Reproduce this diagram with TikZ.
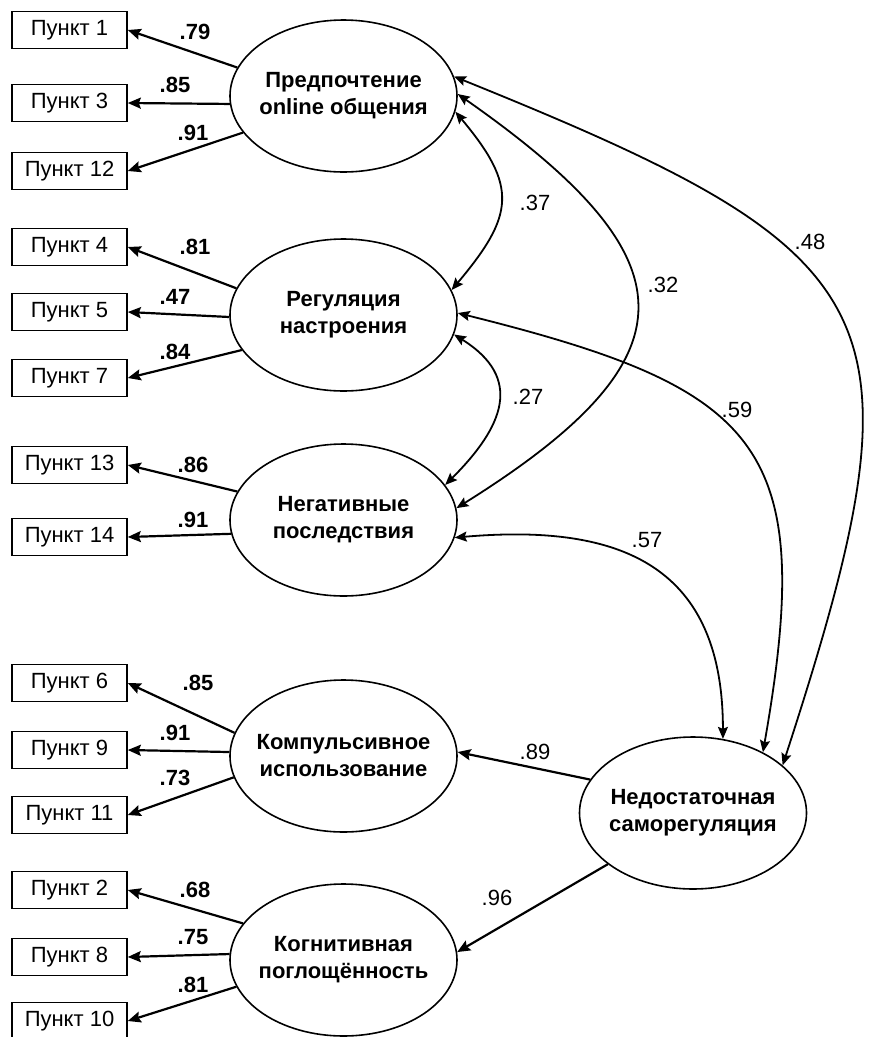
\documentclass[tikz,border=0pt]{standalone}
\usepackage{fontspec}
\setmainfont{Liberation Sans}
\usetikzlibrary{arrows.meta,shapes.geometric}

\tikzset{
  item/.style={draw, line width=1.6pt, minimum width=115pt, minimum height=37pt,
    inner sep=0pt, font=\fontsize{22}{26}\selectfont},
  factor/.style={draw, ellipse, line width=1.6pt, minimum width=227pt, minimum height=152pt,
    inner xsep=-30pt, inner ysep=0pt, align=center, font=\bfseries\fontsize{22}{27}\selectfont},
  load/.style={line width=2.2pt, -{Stealth[length=13pt,width=11pt,inset=2pt]}},
  cov/.style={line width=1.8pt, {Stealth[length=12pt,width=10pt,inset=2pt]}-{Stealth[length=12pt,width=10pt,inset=2pt]}},
  coef/.style={inner sep=0pt, font=\bfseries\fontsize{22}{26}\selectfont},
  rcoef/.style={inner sep=0pt, font=\fontsize{22}{26}\selectfont}
}

\begin{document}
\begin{tikzpicture}[x=1pt,y=1pt]
  \useasboundingbox (0,0) rectangle (871,-1037);
  \clip (0,0) rectangle (871,-1037);

  % latent factors
  \node[factor] (pref) at (343.5,-96) {Предпочтение\\online общения};
  \node[factor] (mood) at (343.5,-315) {Регуляция\\настроения};
  \node[factor] (negc) at (343.5,-520) {Негативные\\последствия};
  \node[factor] (comp) at (343.5,-756) {Компульсивное\\использование};
  \node[factor] (cogn) at (343.5,-960) {Когнитивная\\поглощённость};
  \node[factor] (dsr) at (693,-813) {Недостаточная\\саморегуляция};

  % items
  \foreach \n/\y in {1/30,3/103,12/171,4/247,5/312,7/378,13/465,14/537,6/683,9/750,11/815,2/890,8/957,10/1021}
    \node[item] (p\n) at (69.5,-\y) {Пункт \n};

  % loadings
  \foreach \f/\p/\a in {pref/1/165,pref/3/184,pref/12/200,mood/4/166,mood/5/181,mood/7/199,
      negc/13/165,negc/14/187,comp/6/168,comp/9/178,comp/11/191,cogn/2/160,cogn/8/177,cogn/10/194}
    \draw[load] (\f.\a) -- (p\p.east);

  \foreach \val/\x/\y [count=\i] in {.79/195/32,.85/175/85,.91/193/133,.81/195/247,.47/175/297,
      .84/175/352,.86/193/465,.91/193/520,.85/198/683,.91/175/733,.73/175/778,.68/195/890,
      .75/193/937,.81/193/985}
    \node[coef] (c\i) at (\x,-\y) {\val};

  % correlations
  \draw[cov] (pref.-8) to[out=-50,in=50,looseness=1.4] (mood.13);
  \draw[cov] (mood.-10) to[out=-32,in=45,looseness=1.4] (negc.19);
  \draw[cov] (pref.1) to[out=-35,in=32,looseness=1.77] (negc.6);
  \draw[cov] (pref.10) to[out=-22,in=72,looseness=1.6] (dsr.28);
  \draw[cov] (mood.1) to[out=-14,in=80,looseness=1.5] (dsr.41);
  \draw[cov] (negc.-9) to[out=5,in=90,looseness=1.3] (dsr.68);

  % second order
  \draw[load] (dsr.162) -- (comp.2);
  \draw[load] (dsr.211) -- (cogn.4);

  \foreach \val/\x/\y [count=\i] in {.37/535/203,.32/663/285,.48/810/242,.59/737/410,
      .27/528/397,.57/647/540,.89/535/752,.96/497/898}
    \node[rcoef] (r\i) at (\x,-\y) {\val};
\end{tikzpicture}
\end{document}
